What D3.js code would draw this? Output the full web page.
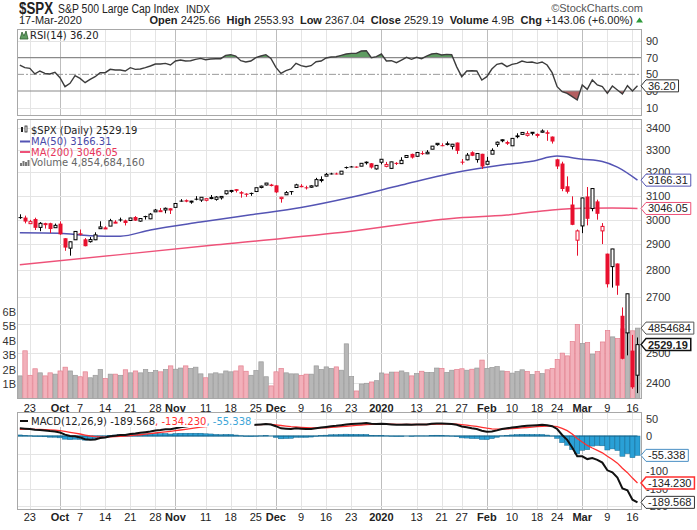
<!DOCTYPE html>
<html>
<head>
<meta charset="utf-8">
<script src="https://cdn.jsdelivr.net/npm/d3@7/dist/d3.min.js"></script>
<style>
  body { margin: 0; background: #fff; }
  svg { display: block; font-family: "Liberation Sans", Arial, sans-serif; }
  .legend { font-family: "DejaVu Sans", Verdana, sans-serif; font-size: 10px; }
</style>
</head>
<body>
<div id="wrapper"></div>
<script>
/* global d3 */

// ---- data ----
const dates = [
  "2019-09-19","2019-09-20","2019-09-23","2019-09-24","2019-09-25","2019-09-26","2019-09-27","2019-09-30",
  "2019-10-01","2019-10-02","2019-10-03","2019-10-04","2019-10-07","2019-10-08","2019-10-09","2019-10-10","2019-10-11",
  "2019-10-14","2019-10-15","2019-10-16","2019-10-17","2019-10-18","2019-10-21","2019-10-22","2019-10-23","2019-10-24",
  "2019-10-25","2019-10-28","2019-10-29","2019-10-30","2019-10-31",
  "2019-11-01","2019-11-04","2019-11-05","2019-11-06","2019-11-07","2019-11-08","2019-11-11","2019-11-12","2019-11-13",
  "2019-11-14","2019-11-15","2019-11-18","2019-11-19","2019-11-20","2019-11-21","2019-11-22","2019-11-25","2019-11-26",
  "2019-11-27","2019-11-29",
  "2019-12-02","2019-12-03","2019-12-04","2019-12-05","2019-12-06","2019-12-09","2019-12-10","2019-12-11","2019-12-12",
  "2019-12-13","2019-12-16","2019-12-17","2019-12-18","2019-12-19","2019-12-20","2019-12-23","2019-12-24","2019-12-26",
  "2019-12-27","2019-12-30","2019-12-31",
  "2020-01-02","2020-01-03","2020-01-06","2020-01-07","2020-01-08","2020-01-09","2020-01-10","2020-01-13","2020-01-14",
  "2020-01-15","2020-01-16","2020-01-17","2020-01-21","2020-01-22","2020-01-23","2020-01-24","2020-01-27","2020-01-28",
  "2020-01-29","2020-01-30","2020-01-31",
  "2020-02-03","2020-02-04","2020-02-05","2020-02-06","2020-02-07","2020-02-10","2020-02-11","2020-02-12","2020-02-13",
  "2020-02-14","2020-02-18","2020-02-19","2020-02-20","2020-02-21","2020-02-24","2020-02-25","2020-02-26","2020-02-27",
  "2020-02-28",
  "2020-03-02","2020-03-03","2020-03-04","2020-03-05","2020-03-06","2020-03-09","2020-03-10","2020-03-11","2020-03-12",
  "2020-03-13","2020-03-16","2020-03-17"
];

const open = [
  3010.36,3008.42,2983.50,3002.43,2968.35,2985.73,2985.47,2967.07,
  2983.69,2924.78,2885.38,2918.56,2944.23,2920.40,2911.10,2918.55,2963.07,2965.81,2973.61,2989.68,3000.77,2996.84,
  2996.48,3010.73,2994.01,3014.78,3003.32,3032.12,3035.39,3039.74,3046.90,
  3050.72,3078.96,3080.80,3075.10,3087.02,3081.25,3080.33,3089.28,3084.18,3090.75,3107.92,3117.91,3127.45,3114.66,
  3108.49,3111.41,3117.44,3134.85,3145.49,3147.18,
  3143.85,3087.41,3103.50,3119.21,3134.62,3141.86,3135.36,3135.75,3141.23,3166.65,3183.63,3195.40,3195.21,3192.32,
  3223.33,3226.05,3225.45,3227.20,3247.23,3240.09,3215.18,
  3244.67,3226.36,3217.55,3241.86,3238.59,3266.03,3281.81,3271.13,3285.35,3282.27,3302.97,3323.66,3321.03,3330.02,
  3315.77,3333.10,3247.16,3255.35,3289.46,3256.45,3282.33,
  3235.66,3280.61,3324.91,3344.92,3335.54,3318.28,3365.87,3370.50,3365.90,3378.08,3369.04,3380.39,3380.45,3360.50,
  3257.61,3238.94,3139.90,3062.54,2916.90,
  2974.28,3096.46,3045.75,3075.70,2954.20,2863.89,2813.48,2825.60,2630.86,2569.99,2508.59,2425.66
];
const high = [
  3021.99,3016.37,2999.15,3007.98,2989.82,2987.28,2987.31,2983.85,
  2992.53,2924.78,2911.13,2953.74,2959.75,2925.47,2929.32,2948.46,2993.28,2972.84,3003.28,2997.54,3008.29,3000.00,
  3007.33,3014.57,3004.78,3016.07,3027.39,3044.08,3047.87,3050.10,3046.90,
  3066.95,3085.20,3083.95,3078.34,3097.77,3093.09,3088.33,3102.61,3098.06,3098.20,3120.46,3124.17,3127.64,3118.97,
  3110.11,3112.87,3133.83,3142.69,3154.26,3150.30,
  3144.31,3094.97,3119.38,3119.45,3150.60,3148.87,3142.12,3143.98,3176.28,3182.68,3197.71,3198.22,3198.48,3205.48,
  3225.65,3227.78,3226.43,3240.08,3247.93,3240.92,3231.72,
  3258.14,3246.15,3246.84,3244.91,3267.07,3275.58,3282.99,3288.13,3294.25,3298.66,3317.11,3329.88,3329.79,3337.77,
  3326.88,3333.18,3258.85,3285.78,3293.47,3285.91,3282.33,
  3268.44,3306.92,3337.58,3347.96,3341.42,3352.26,3375.63,3381.47,3385.09,3380.69,3375.01,3393.52,3389.15,3360.76,
  3259.81,3246.99,3182.51,3097.07,2959.72,
  3090.96,3136.72,3130.97,3083.04,2985.93,2863.89,2882.59,2825.60,2660.95,2711.33,2562.98,2553.93
];
const low = [
  3003.16,2984.68,2982.23,2957.73,2952.86,2963.71,2945.53,2967.07,
  2938.70,2874.93,2855.94,2918.56,2935.68,2892.66,2907.41,2917.12,2963.07,2962.94,2973.61,2985.20,2991.79,2976.31,
  2995.35,2995.04,2991.21,3000.42,3001.94,3032.12,3034.81,3025.96,3023.19,
  3050.72,3074.87,3072.15,3065.89,3080.23,3073.58,3075.82,3084.73,3078.80,3083.26,3104.60,3112.06,3113.47,3091.41,
  3094.55,3099.26,3117.44,3131.00,3143.41,3139.34,
  3110.78,3070.33,3102.53,3103.76,3134.62,3135.46,3126.09,3133.21,3138.47,3156.51,3183.63,3191.03,3191.14,3192.32,
  3216.03,3222.30,3220.51,3227.20,3234.37,3216.57,3212.03,
  3235.53,3222.34,3214.64,3232.43,3236.67,3263.67,3260.86,3268.43,3277.19,3280.69,3302.82,3318.86,3316.61,3320.04,
  3301.87,3281.53,3234.50,3253.22,3271.89,3242.80,3214.68,
  3235.66,3280.61,3313.75,3334.39,3322.12,3317.77,3352.72,3369.72,3360.52,3366.15,3355.61,3378.83,3341.02,3328.45,
  3214.65,3118.77,3108.99,2977.39,2855.84,
  2945.19,2976.63,3034.38,2999.83,2901.54,2734.43,2734.00,2707.22,2478.86,2492.37,2380.94,2367.04
];
const close = [
  3006.79,2992.07,2991.78,2966.60,2984.87,2977.62,2961.79,2976.74,
  2940.25,2887.61,2910.63,2952.01,2938.79,2893.06,2919.40,2938.13,2970.27,2966.15,2995.68,2989.69,2997.95,2986.20,
  3006.72,2995.99,3004.52,3010.29,3022.55,3039.42,3036.89,3046.77,3037.56,
  3066.91,3078.27,3074.62,3076.78,3085.18,3093.08,3087.01,3091.84,3094.04,3096.63,3120.46,3122.03,3120.18,3108.46,
  3103.54,3110.29,3133.64,3140.52,3153.63,3140.98,
  3113.87,3093.20,3112.76,3117.43,3145.91,3135.96,3132.52,3141.63,3168.57,3168.80,3191.45,3192.52,3191.14,3205.37,
  3221.22,3224.01,3223.38,3239.91,3240.02,3221.29,3230.78,
  3257.85,3234.85,3246.28,3237.18,3253.05,3274.70,3265.35,3288.13,3283.15,3289.29,3316.81,3329.62,3320.79,3321.75,
  3325.54,3295.47,3243.63,3276.24,3273.40,3283.66,3225.52,
  3248.92,3297.59,3334.69,3345.78,3327.71,3352.09,3357.75,3379.45,3373.94,3380.16,3370.29,3386.15,3373.23,3337.75,
  3225.89,3128.21,3116.39,2978.76,2954.22,
  3090.23,3003.37,3130.12,3023.94,2972.37,2746.56,2882.23,2741.38,2480.64,2711.02,2386.13,2529.19
];
const closeBefore = 3006.73; // close of the session before the first candle

// volume in billions of shares
const volume = [
  1.56,3.29,1.6,2.05,1.77,1.56,1.77,1.68,
  1.9,2.16,1.9,1.6,1.5,1.84,1.43,1.6,2.0,1.38,1.68,1.68,1.6,1.98,1.77,1.9,1.77,2.0,1.79,1.93,1.84,2.0,2.25,
  2.02,2.1,2.25,2.07,2.16,1.7,1.43,1.7,1.77,1.7,1.9,1.84,1.9,2.25,1.88,1.6,1.93,2.53,1.5,0.87,
  1.84,2.07,1.77,1.7,1.7,1.6,1.68,1.68,2.25,2.0,2.18,2.07,2.18,1.95,3.77,1.52,0.52,1.0,1.05,1.14,1.23,
  1.76,1.69,1.82,1.82,1.9,1.78,1.56,1.72,1.88,1.79,1.79,2.1,2.08,1.8,1.95,2.0,2.05,1.95,2.02,2.1,2.65,
  2.07,2.14,2.2,1.9,1.86,1.75,1.86,1.98,1.86,1.65,1.86,1.72,1.98,2.07,2.7,3.13,2.94,3.93,5.1,
  3.79,3.86,3.06,3.24,3.9,4.69,4.25,4.14,4.8,4.55,4.67,4.854684
];

const rsi = [
  61.2,58,57.2,50.5,54,51.2,50.4,52.4,
  46,35.2,39.2,48.4,45.2,40,44,47.2,52,52,56,55.2,55.2,54,58,56,56.4,58,60,62.4,62.4,63.2,61.2,
  66,67.2,66,66.4,68,69.2,67.6,68.4,68.8,68.8,72.8,73.6,72,66.4,64.8,66,70,72,73.6,69.2,
  58.4,51.2,54.4,56.4,63.2,60.4,59.2,60.4,65.2,66,69.6,70.8,71.2,72.8,74.4,75.2,75.2,78,78.4,70,71.2,
  74.4,66,66.4,64,67.2,70.4,68,70.4,68.8,72,74.4,75.2,73.2,74,73.6,59,47.2,54,54.4,54,43.2,
  47.2,56.4,62,63.2,59.2,62,63.2,66,64.4,64.8,63.2,64.8,61.2,52,35.2,29.2,27.2,23.2,19.2,
  37.2,32,43.2,37.2,35.2,27.2,36,31.2,26.4,36.4,30,36.2
];

// moving averages, read at a handful of sessions
const ma50Dates = ["2019-09-19","2019-10-01","2019-10-09","2019-10-17","2019-10-25","2019-11-08","2019-11-22",
  "2019-12-09","2019-12-23","2020-01-08","2020-01-23","2020-02-06","2020-02-14","2020-02-24","2020-03-02",
  "2020-03-06","2020-03-11","2020-03-17"];
const ma50Values = [2947,2945,2935,2933,2958,2990,3020,3050,3093,3145,3196,3232,3249,3272,3258,3248,3223,3166.31];
const ma200Dates = ["2019-09-19","2019-10-17","2019-11-14","2019-12-23","2020-01-23","2020-02-07","2020-02-21",
  "2020-03-02","2020-03-10","2020-03-17"];
const ma200Values = [2821,2860,2900,2953,3005,3019,3040,3047,3048,3046.05];

const macd = [
  22,21,20,18,17,16,14,13,
  10,4,0,-1,-4,-9,-11,-10,-6,-4,-1,1,3,3,6,7,9,11,13,16,17,19,19,
  22,25,27,29,31,33,33,34,34,34,36,37,36,34,32,31,32,33,34,33,
  28,22,21,20,22,21,20,20,22,24,26,28,29,31,33,34,35,36,37,35,34,
  35,34,33,32,32,33,32,33,33,33,35,36,36,35,34,32,27,25,22,20,15,
  12,13,16,20,22,24,26,28,29,30,31,32,31,28,20,3,-11,-33,-58,
  -58,-66,-63,-68,-76,-98,-104,-119,-150,-155,-182,-189.568
];
const signal = [
  19,19.4,19.5,19.2,18.8,18.2,17.4,16.5,
  15.2,13,10.4,8.1,5.7,2.8,0,-2,-2.8,-3,-2.6,-1.9,-0.9,-0.1,1.1,2.3,3.6,5.1,6.7,8.6,10.3,12,13.4,
  15.1,17.1,19.1,21.1,23.1,25.1,26.7,28.2,29.4,30.3,31.4,32.5,33.2,33.4,33.1,32.7,32.6,32.7,33,33,
  32,30,28.2,26.6,25.7,24.8,23.8,23,22.8,23,23.6,24.5,25.4,26.5,27.8,29,30.2,31.4,32.5,33,33.2,
  33.6,33.7,33.6,33.3,33,33,32.8,32.8,32.8,32.9,33.3,33.8,34.2,34.4,34.3,33.8,32.4,30.9,29.1,27.3,24.8,
  22.2,20.4,19.5,19.6,20.1,20.9,21.9,23.1,24.3,25.4,26.5,27.6,28.3,28.2,26.6,21.9,15.3,5.6,-7.1,
  -17.3,-27,-34.2,-41,-48,-58,-67.2,-77.6,-92.1,-104.7,-120.2,-134.23
];
const histogram = [
  3,1.6,0.5,-1.2,-1.8,-2.2,-3.4,-3.5,
  -5.2,-9,-10.4,-9.1,-9.7,-11.8,-11,-8,-3.2,-1,1.6,2.9,3.9,3.1,4.9,4.7,5.4,5.9,6.3,7.4,6.7,7,5.6,
  6.9,7.9,7.9,7.9,7.9,7.9,6.3,5.8,4.6,3.7,4.6,4.5,2.8,0.6,-1.1,-1.7,-0.6,0.3,1,0,
  -4,-8,-7.2,-6.6,-3.7,-3.8,-3.8,-3,-0.8,1,2.4,3.5,3.6,4.5,5.2,5,4.8,4.6,4.5,2,0.8,
  1.4,0.3,-0.6,-1.3,-1,0,-0.8,0.2,0.2,0.1,1.7,2.2,1.8,0.6,-0.3,-1.8,-5.4,-5.9,-7.1,-7.3,-9.8,
  -10.2,-7.4,-3.5,0.4,1.9,3.1,4.1,4.9,4.7,4.6,4.5,4.4,2.7,-0.2,-6.6,-18.9,-26.3,-38.6,-50.9,
  -40.7,-39,-28.8,-27,-28,-40,-36.8,-41.4,-57.9,-50.3,-61.8,-55.338
];

const tickDates = ["2019-09-23","2019-10-01","2019-10-07","2019-10-14","2019-10-21","2019-10-28","2019-11-01",
  "2019-11-11","2019-11-18","2019-11-25","2019-12-02","2019-12-09","2019-12-16","2019-12-23","2020-01-02",
  "2020-01-13","2020-01-21","2020-01-27","2020-02-03","2020-02-10","2020-02-18","2020-02-24","2020-03-02",
  "2020-03-09","2020-03-16"];
const tickLabels = ["23","Oct","7","14","21","28","Nov","11","18","25","Dec","9","16","23","2020",
  "13","21","27","Feb","10","18","24","Mar","9","16"];
const monthLabels = ["Oct","Nov","Dec","2020","Feb","Mar"];
const priceTicks = [2400,2500,2600,2700,2800,2900,3000,3100,3200,3300,3400];
const priceLabels = [2400,2500,2700,2800,2900,3000,3100,3200,3300,3400]; // 2600 sits under a tag
const volumeTicks = [1,2,3,4,5,6];
const rsiTicks = [10,30,50,70,90];
const macdTicks = [50,0,-50,-100,-150,-200];
const macdLabels = [50,0,-100,-150,-200]; // -50 sits under a tag

// ---- layout ----
const dimensions = {
  width: 697,
  height: 530,
  left: 17,
  right: 642,
  rsi: { top: 29, bottom: 116 },
  price: { top: 119, bottom: 399 },
  macd: { top: 412, bottom: 510 },
};

const colors = {
  up: "#000000",
  down: "#e8102e",
  volUp: "#b7b7b7",
  volUpEdge: "#9a9a9a",
  volDown: "#f2b0ba",
  volDownEdge: "#e3808f",
  ma50: "#5454b4",
  ma200: "#ee5279",
  grid: "#e4e4e4",
  gridMonth: "#bdbdbd",
  border: "#a8a8a8",
  text: "#222",
  hist: "#2aa0d6",
  histEdge: "#176890",
  signal: "#ff3030",
};

const x = d3
  .scaleBand()
  .domain(dates)
  .range([17.3, 640]);
const cx = (d) => x(d) + x.bandwidth() / 2;

const yRsi = d3.scaleLinear().domain([0, 100]).range([116, 32.7]);
const yPrice = d3.scaleLog().domain([2400, 3400]).range([383, 128]);
const yVol = d3.scaleLinear().domain([0, 6]).range([398.5, 311.5]);
const yMacd = d3.scaleLinear().domain([0, -200]).range([436, 506]);

const rows = dates.map((d, i) => ({
  date: d,
  open: open[i],
  high: high[i],
  low: low[i],
  close: close[i],
  prev: i === 0 ? closeBefore : close[i - 1],
  volume: volume[i],
  rsi: rsi[i],
  macd: macd[i],
  signal: signal[i],
  hist: histogram[i],
}));
const isUp = (d) => d.close >= d.prev;

const svg = d3
  .select("#wrapper")
  .append("svg")
  .attr("width", dimensions.width)
  .attr("height", dimensions.height);

const defs = svg.append("defs");
["rsi", "price", "macd"].forEach((key) => {
  defs
    .append("clipPath")
    .attr("id", `clip-${key}`)
    .append("rect")
    .attr("x", dimensions.left)
    .attr("y", dimensions[key].top)
    .attr("width", dimensions.right - dimensions.left)
    .attr("height", dimensions[key].bottom - dimensions[key].top);
});
defs
  .append("clipPath")
  .attr("id", "clip-above70")
  .append("rect")
  .attr("x", dimensions.left)
  .attr("y", dimensions.rsi.top)
  .attr("width", dimensions.right - dimensions.left)
  .attr("height", yRsi(70) - dimensions.rsi.top);
defs
  .append("clipPath")
  .attr("id", "clip-below30")
  .append("rect")
  .attr("x", dimensions.left)
  .attr("y", yRsi(30))
  .attr("width", dimensions.right - dimensions.left)
  .attr("height", dimensions.rsi.bottom - yRsi(30));

// ---- header ----
svg
  .append("text")
  .attr("x", 19)
  .attr("y", 14)
  .attr("fill", colors.text)
  .attr("textLength", 34)
  .attr("lengthAdjust", "spacingAndGlyphs")
  .style("font-size", "16px")
  .style("font-weight", "bold")
  .text("$SPX");
svg
  .append("text")
  .attr("x", 58)
  .attr("y", 13)
  .attr("fill", colors.text)
  .attr("textLength", 121)
  .attr("lengthAdjust", "spacingAndGlyphs")
  .style("font-size", "12px")
  .text("S&P 500 Large Cap Index");
svg
  .append("text")
  .attr("x", 186)
  .attr("y", 13)
  .attr("fill", colors.text)
  .style("font-size", "10px")
  .text("INDX");
svg
  .append("text")
  .attr("x", 643)
  .attr("y", 12)
  .attr("fill", "#555")
  .style("font-size", "11px")
  .style("text-anchor", "end")
  .text("\u00a9StockCharts.com");
svg
  .append("text")
  .attr("x", 19)
  .attr("y", 24)
  .attr("fill", colors.text)
  .style("font-size", "11px")
  .text("17-Mar-2020");

const quoteParts = [
  ["Open", true], [" 2425.66  ", false],
  ["High", true], [" 2553.93  ", false],
  ["Low", true], [" 2367.04  ", false],
  ["Close", true], [" 2529.19  ", false],
  ["Volume", true], [" 4.9B  ", false],
  ["Chg", true], [" +143.06 (+6.00%)", false],
];
const quote = svg
  .append("text")
  .attr("x", 633)
  .attr("y", 24)
  .attr("fill", colors.text)
  .style("font-size", "11px")
  .style("text-anchor", "end")
  .style("white-space", "pre");
quote
  .selectAll("tspan")
  .data(quoteParts)
  .join("tspan")
  .style("font-weight", (d) => (d[1] ? "bold" : "normal"))
  .text((d) => d[0]);
svg
  .append("path")
  .attr("d", "M636,22.5 L639.5,17.5 L643,22.5 Z")
  .attr("fill", "#2e9a3a");

// ---- panel frames and grid ----
const panelKeys = ["rsi", "price", "macd"];
panelKeys.forEach((key) => {
  const p = dimensions[key];
  svg
    .append("g")
    .selectAll("line")
    .data(tickDates)
    .join("line")
    .attr("x1", (d) => Math.round(cx(d)) + 0.5)
    .attr("x2", (d) => Math.round(cx(d)) + 0.5)
    .attr("y1", p.top)
    .attr("y2", p.bottom)
    .attr("stroke", (d, i) =>
      monthLabels.includes(tickLabels[i]) ? colors.gridMonth : colors.grid
    )
    .attr("stroke-width", 1);
});

const hGrid = (values, scale) =>
  svg
    .append("g")
    .selectAll("line")
    .data(values)
    .join("line")
    .attr("x1", dimensions.left)
    .attr("x2", dimensions.right)
    .attr("y1", (d) => Math.round(scale(d)) + 0.5)
    .attr("y2", (d) => Math.round(scale(d)) + 0.5)
    .attr("stroke", colors.grid);

hGrid([90, 10], yRsi);
hGrid(priceTicks, yPrice);
hGrid(macdTicks.filter((d) => d !== 0), yMacd);

// ---- RSI panel ----
const rsiG = svg.append("g").attr("clip-path", "url(#clip-rsi)");
const rsiLine = d3
  .line()
  .x((d) => cx(d.date))
  .y((d) => yRsi(d.rsi));
const rsiArea70 = d3
  .area()
  .x((d) => cx(d.date))
  .y0(yRsi(70))
  .y1((d) => yRsi(d.rsi));
const rsiArea30 = d3
  .area()
  .x((d) => cx(d.date))
  .y0(yRsi(30))
  .y1((d) => yRsi(d.rsi));

rsiG
  .append("path")
  .attr("d", rsiArea70(rows))
  .attr("clip-path", "url(#clip-above70)")
  .attr("fill", "#5f9c62");
rsiG
  .append("path")
  .attr("d", rsiArea30(rows))
  .attr("clip-path", "url(#clip-below30)")
  .attr("fill", "#b45f60");

[70, 30].forEach((v) => {
  rsiG
    .append("line")
    .attr("x1", dimensions.left)
    .attr("x2", dimensions.right)
    .attr("y1", yRsi(v))
    .attr("y2", yRsi(v))
    .attr("stroke", "#8a8a8a")
    .attr("stroke-width", 1.2);
});
rsiG
  .append("line")
  .attr("x1", dimensions.left)
  .attr("x2", dimensions.right)
  .attr("y1", yRsi(50))
  .attr("y2", yRsi(50))
  .attr("stroke", "#9a9a9a")
  .attr("stroke-dasharray", "7,2,2,2");

rsiG
  .append("path")
  .attr("d", rsiLine(rows))
  .attr("fill", "none")
  .attr("stroke", "#3c3c3c")
  .attr("stroke-width", 1.4);

// ---- price panel: volume first, then MAs and candles ----
const priceG = svg.append("g").attr("clip-path", "url(#clip-price)");

priceG
  .append("g")
  .selectAll("rect")
  .data(rows)
  .join("rect")
  .attr("x", (d) => x(d.date) + 0.5)
  .attr("width", x.bandwidth() - 0.6)
  .attr("y", (d) => yVol(d.volume))
  .attr("height", (d) => yVol(0) - yVol(d.volume))
  .attr("fill", (d) => (isUp(d) ? colors.volUp : colors.volDown))
  .attr("stroke", (d) => (isUp(d) ? colors.volUpEdge : colors.volDownEdge))
  .attr("stroke-width", 0.7);

const maLine = d3
  .line()
  .curve(d3.curveMonotoneX)
  .x((d) => cx(d[0]))
  .y((d) => yPrice(d[1]));

priceG
  .append("path")
  .attr("d", maLine(d3.zip(ma200Dates, ma200Values)))
  .attr("fill", "none")
  .attr("stroke", colors.ma200)
  .attr("stroke-width", 1.5);
priceG
  .append("path")
  .attr("d", maLine(d3.zip(ma50Dates, ma50Values)))
  .attr("fill", "none")
  .attr("stroke", colors.ma50)
  .attr("stroke-width", 1.5);

const candles = priceG
  .append("g")
  .selectAll("g")
  .data(rows)
  .join("g");

candles
  .append("line")
  .attr("x1", (d) => Math.round(cx(d.date)) + 0.5)
  .attr("x2", (d) => Math.round(cx(d.date)) + 0.5)
  .attr("y1", (d) => yPrice(d.high))
  .attr("y2", (d) => yPrice(d.low))
  .attr("stroke", (d) => (isUp(d) ? colors.up : colors.down))
  .attr("stroke-width", 1);

candles
  .append("rect")
  .attr("x", (d) => Math.round(cx(d.date)) - 1.5 + (d.close > d.open ? 0.5 : 0))
  .attr("width", (d) => (d.close > d.open ? 3 : 4))
  .attr("y", (d) => yPrice(Math.max(d.open, d.close)))
  .attr("height", (d) =>
    Math.max(1, yPrice(Math.min(d.open, d.close)) - yPrice(Math.max(d.open, d.close)))
  )
  .attr("fill", (d) =>
    d.close > d.open ? "#fff" : isUp(d) ? colors.up : colors.down
  )
  .attr("stroke", (d) =>
    d.close > d.open ? (isUp(d) ? colors.up : colors.down) : "none"
  )
  .attr("stroke-width", 1);

// ---- MACD panel ----
const macdG = svg.append("g").attr("clip-path", "url(#clip-macd)");

macdG
  .append("g")
  .selectAll("rect")
  .data(rows)
  .join("rect")
  .attr("x", (d) => x(d.date))
  .attr("width", x.bandwidth())
  .attr("y", (d) => Math.min(yMacd(0), yMacd(d.hist)))
  .attr("height", (d) => Math.abs(yMacd(d.hist) - yMacd(0)))
  .attr("fill", colors.hist)
  .attr("stroke", colors.histEdge)
  .attr("stroke-width", 0.5);

macdG
  .append("line")
  .attr("x1", dimensions.left)
  .attr("x2", cx(dates[dates.length - 1]))
  .attr("y1", yMacd(0))
  .attr("y2", yMacd(0))
  .attr("stroke", colors.histEdge)
  .attr("stroke-width", 1);

const macdLine = d3
  .line()
  .x((d) => cx(d.date))
  .y((d) => yMacd(d.macd));
const signalLine = d3
  .line()
  .x((d) => cx(d.date))
  .y((d) => yMacd(d.signal));

macdG
  .append("path")
  .attr("d", signalLine(rows))
  .attr("fill", "none")
  .attr("stroke", colors.signal)
  .attr("stroke-width", 1.3);
macdG
  .append("path")
  .attr("d", macdLine(rows))
  .attr("fill", "none")
  .attr("stroke", "#111")
  .attr("stroke-width", 2);

// ---- borders ----
panelKeys.forEach((key) => {
  const p = dimensions[key];
  svg
    .append("rect")
    .attr("x", dimensions.left + 0.5)
    .attr("y", p.top + 0.5)
    .attr("width", dimensions.right - dimensions.left - 1)
    .attr("height", p.bottom - p.top - 1)
    .attr("fill", "none")
    .attr("stroke", colors.border);
});

// ---- axes labels ----
const rightLabels = (values, scale) =>
  svg
    .append("g")
    .selectAll("text")
    .data(values)
    .join("text")
    .attr("x", 646)
    .attr("y", (d) => scale(d) + 4)
    .attr("fill", "#333")
    .style("font-size", "11px")
    .text((d) => d);

rightLabels(rsiTicks, yRsi);
rightLabels(priceLabels, yPrice);
rightLabels(macdLabels, yMacd);

svg
  .append("g")
  .selectAll("text")
  .data(volumeTicks)
  .join("text")
  .attr("x", 16)
  .attr("y", (d) => yVol(d) + 4)
  .attr("fill", "#333")
  .style("font-size", "11px")
  .style("text-anchor", "end")
  .text((d) => d + "B");

[dimensions.price.bottom + 13, dimensions.macd.bottom + 11].forEach((yy) => {
  svg
    .append("g")
    .selectAll("text")
    .data(tickDates)
    .join("text")
    .attr("x", (d) => cx(d))
    .attr("y", yy)
    .attr("fill", "#222")
    .style("font-size", "11px")
    .style("text-anchor", "middle")
    .style("font-weight", (d, i) => (monthLabels.includes(tickLabels[i]) ? "bold" : "normal"))
    .text((d, i) => tickLabels[i]);
});

// ---- value tags on the right ----
function addTag(yy, label, stroke, bold, strokeWidth) {
  const g = svg.append("g");
  const path = g.append("path");
  const t = g
    .append("text")
    .attr("x", 648)
    .attr("y", yy + 4)
    .attr("fill", "#222")
    .style("font-size", "11px")
    .style("font-weight", bold ? "bold" : "normal")
    .text(label);
  const w = t.node().getComputedTextLength();
  const x0 = 641;
  const x1 = 648 + w + 3;
  path
    .attr(
      "d",
      `M${x0},${yy} L${x0 + 5},${yy - 6} L${x1},${yy - 6} L${x1},${yy + 6} L${x0 + 5},${yy + 6} Z`
    )
    .attr("fill", "#fff")
    .attr("stroke", stroke)
    .attr("stroke-width", strokeWidth || 1);
}

addTag(yRsi(rsi[rsi.length - 1]), "36.20", "#333");
addTag(yPrice(ma50Values[ma50Values.length - 1]), "3166.31", colors.ma50);
addTag(yPrice(ma200Values[ma200Values.length - 1]), "3046.05", colors.ma200);
addTag(yVol(volume[volume.length - 1]), "4854684", "#555");
addTag(yPrice(close[close.length - 1]), "2529.19", "#111", true, 1.5);
addTag(yMacd(histogram[histogram.length - 1]), "-55.338", "#4a8fc4");
addTag(yMacd(signal[signal.length - 1]), "-134.230", colors.signal, false, 1.5);
addTag(yMacd(macd[macd.length - 1]), "-189.568", "#333");

// ---- legends ----
// RSI
svg
  .append("path")
  .attr("d", "M20,39 L22,32 L24,36 L26,31 L28,39 Z")
  .attr("fill", "#5f9c62")
  .attr("stroke", "#2f5f31")
  .attr("stroke-width", 0.8);
svg
  .append("text")
  .attr("class", "legend")
  .attr("x", 30)
  .attr("y", 38.5)
  .attr("fill", "#222")
  .text("RSI(14) 36.20");

// price
const legendX = 31;
const lg = svg.append("g").attr("class", "legend");
lg.append("rect").attr("x", 21).attr("y", 127).attr("width", 2).attr("height", 5).attr("fill", "#222");
lg.append("rect").attr("x", 25).attr("y", 126).attr("width", 2).attr("height", 6).attr("fill", "#fff").attr("stroke", "#222").attr("stroke-width", 0.8);
lg.append("text").attr("x", legendX).attr("y", 134).attr("fill", "#222").text("$SPX (Daily) 2529.19");
lg.append("line").attr("x1", 20).attr("x2", 30).attr("y1", 141.5).attr("y2", 141.5).attr("stroke", colors.ma50).attr("stroke-width", 2);
lg.append("text").attr("x", legendX).attr("y", 145).attr("fill", "#4848a8").text("MA(50) 3166.31");
lg.append("line").attr("x1", 20).attr("x2", 30).attr("y1", 152).attr("y2", 152).attr("stroke", colors.ma200).attr("stroke-width", 2);
lg.append("text").attr("x", legendX).attr("y", 155.5).attr("fill", "#e8365c").text("MA(200) 3046.05");
lg.selectAll("rect.vb")
  .data([3, 5, 4, 6])
  .join("rect")
  .attr("class", "vb")
  .attr("x", (d, i) => 20 + i * 2.5)
  .attr("y", (d) => 166 - d)
  .attr("width", 2)
  .attr("height", (d) => d)
  .attr("fill", "#777");
lg.append("text").attr("x", legendX).attr("y", 166).attr("fill", "#666").text("Volume " + d3.format(",")(4854684160));

// MACD legend with white backing
const macdLegend = svg.append("g").attr("class", "legend");
const macdBg = macdLegend.append("rect").attr("x", 18).attr("y", 413).attr("height", 14).attr("fill", "#fff");
macdLegend.append("line").attr("x1", 20).attr("x2", 28).attr("y1", 421).attr("y2", 421).attr("stroke", "#111").attr("stroke-width", 2);
const macdText = macdLegend.append("text").attr("x", 31).attr("y", 424.5).style("white-space", "pre");
macdText.append("tspan").attr("fill", "#222").text("MACD(12,26,9) -189.568");
macdText.append("tspan").attr("fill", colors.signal).text(", -134.230");
macdText.append("tspan").attr("fill", "#3ea6d8").text(", -55.338");
macdBg.attr("width", macdText.node().getComputedTextLength() + 16);
</script>
</body>
</html>
